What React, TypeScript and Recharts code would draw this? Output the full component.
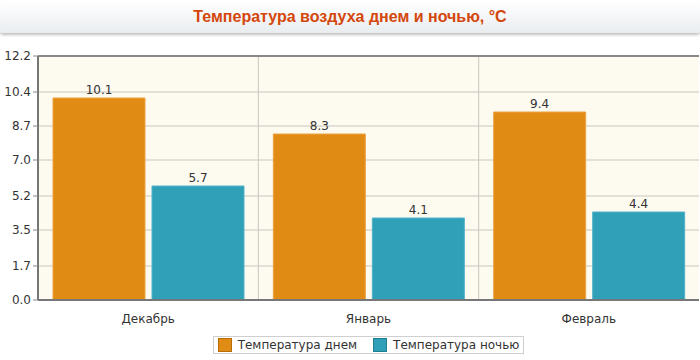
import React from 'react';
import {
  BarChart,
  Bar,
  XAxis,
  YAxis,
  CartesianGrid,
  Legend,
  LabelList,
  ReferenceLine
} from 'recharts';

const months = ['Декабрь', 'Январь', 'Февраль'];
const dayTemp = [10.1, 8.3, 9.4];
const nightTemp = [5.7, 4.1, 4.4];
const yTicks = [0.0, 1.7, 3.5, 5.2, 7.0, 8.7, 10.4, 12.2];

const data = months.map((month, i) => ({
  month,
  day: dayTemp[i],
  night: nightTemp[i]
}));

const FONT = '"DejaVu Sans", Verdana, sans-serif';

const LegendBox = () => (
  <div
    style={{
      display: 'inline-flex',
      alignItems: 'center',
      gap: 16,
      border: '1px solid #cfcfcf',
      padding: '1px 4px',
      background: '#fff',
      fontFamily: FONT,
      fontSize: 12,
      color: '#333'
    }}
  >
    {[
      { name: 'Температура днем', color: '#e08c14', border: '#b86e08' },
      { name: 'Температура ночью', color: '#2fa0b8', border: '#1f7d92' }
    ].map((it) => (
      <span key={it.name} style={{ display: 'inline-flex', alignItems: 'center', gap: 6 }}>
        <span
          style={{
            width: 12,
            height: 12,
            background: it.color,
            border: `1px solid ${it.border}`,
            display: 'inline-block'
          }}
        />
        {it.name}
      </span>
    ))}
  </div>
);

export default function App() {
  return (
    <div style={{ position: 'absolute', left: 0, top: 0, width: 700, height: 360, background: '#fff' }}>
      <div
        style={{
          height: 33,
          lineHeight: '33px',
          textAlign: 'center',
          background: 'linear-gradient(#ffffff, #e9edf0)',
          boxShadow: '0 2px 3px rgba(0,0,0,0.25)',
          borderRadius: 3,
          fontFamily: '"Liberation Sans", Arial, sans-serif',
          fontWeight: 'bold',
          fontSize: 16,
          color: '#d4470c'
        }}
      >
        Температура воздуха днем и ночью, °C
      </div>
      <BarChart
        width={700}
        height={324}
        data={data}
        margin={{ top: 20, right: 1, left: 0, bottom: 12 }}
        barCategoryGap={15}
        barGap={7}
        style={{ marginTop: 3 }}
      >
        <CartesianGrid
          fill="#fdfaf0"
          stroke="#c9c6c0"
          verticalCoordinatesGenerator={({ offset }: any) => [
            offset.left + offset.width / 3,
            offset.left + (offset.width * 2) / 3
          ]}
        />
        <XAxis
          dataKey="month"
          tickLine={false}
          axisLine={{ stroke: '#777', strokeWidth: 2 }}
          tick={{ fill: '#333', fontSize: 12, fontFamily: FONT }}
          tickMargin={8}
          height={28}
        />
        <YAxis
          width={38}
          domain={[0, 12.2]}
          ticks={yTicks}
          interval={0}
          tickFormatter={(v: number) => v.toFixed(1)}
          tickSize={5}
          tickLine={{ stroke: '#888' }}
          axisLine={{ stroke: '#777', strokeWidth: 2 }}
          tick={{ fill: '#333', fontSize: 12, fontFamily: FONT }}
        />
        <ReferenceLine y={12.2} stroke="#888" strokeWidth={2} />
        <Legend
          verticalAlign="bottom"
          align="center"
          content={() => <LegendBox />}
          wrapperStyle={{ bottom: 4, left: 38, width: 661, textAlign: 'center' }}
        />
        <Bar dataKey="day" name="Температура днем" fill="#e08c14" stroke="#eda245" isAnimationActive={false}>
          <LabelList dataKey="day" position="top" offset={4} fill="#333" fontSize={12} fontFamily={FONT} formatter={(v: any) => Number(v).toFixed(1)} />
        </Bar>
        <Bar dataKey="night" name="Температура ночью" fill="#2fa0b8" stroke="#52b3c8" isAnimationActive={false}>
          <LabelList dataKey="night" position="top" offset={4} fill="#333" fontSize={12} fontFamily={FONT} formatter={(v: any) => Number(v).toFixed(1)} />
        </Bar>
      </BarChart>
    </div>
  );
}
